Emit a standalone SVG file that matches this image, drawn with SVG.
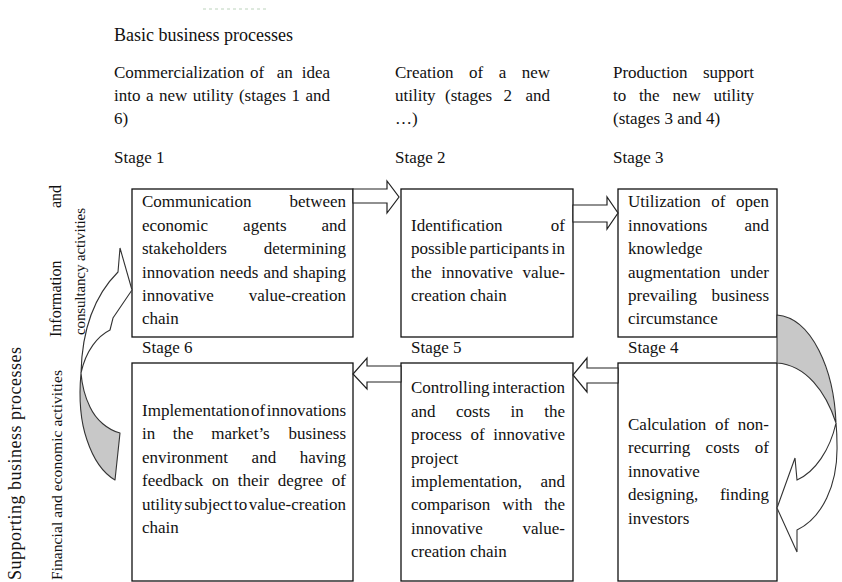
<svg xmlns="http://www.w3.org/2000/svg" width="842" height="582" viewBox="0 0 842 582">
<style>
  text { font-family: "Liberation Serif", "Times New Roman", serif; font-size: 17px; fill: #111; }
  .box { fill: #fff; stroke: #111; stroke-width: 1.3; }
  .blk { fill: #fff; stroke: #222; stroke-width: 1.2; stroke-linejoin: miter; }
  .back { fill: #c8c8c8; stroke: #333; stroke-width: 1.1; stroke-linejoin: round; }
  .front { fill: #fff; stroke: #333; stroke-width: 1.1; stroke-linejoin: miter; }
  .h18 { font-size: 18px; }
  .v18 { font-size: 18px; }
  .v16 { font-size: 16px; }
  .v155 { font-size: 15.5px; }
  .v15 { font-size: 15px; }
</style>
<rect width="842" height="582" fill="#fff"/>
<line x1="203" y1="9" x2="267" y2="9" stroke="#bcd3bc" stroke-width="1" stroke-dasharray="3 3"/>

<g id="header">
  <text class="h18" x="114" y="40.7">Basic business processes</text>
  <text y="77.5"><tspan x="114">Commercialization</tspan><tspan x="250">of</tspan><tspan x="276.7">an</tspan><tspan x="301.7">idea</tspan></text>
  <text y="101"><tspan x="114">into</tspan><tspan x="146">a</tspan><tspan x="159">new</tspan><tspan x="192.8">utility</tspan><tspan x="238.9">(stages</tspan><tspan x="291.6">1</tspan><tspan x="305.5">and</tspan></text>
  <text x="114" y="124.4">6)</text>
  <text y="77.5"><tspan x="395">Creation</tspan><tspan x="469">of</tspan><tspan x="498.7">a</tspan><tspan x="521.7">new</tspan></text>
  <text y="101"><tspan x="395">utility</tspan><tspan x="445">(stages</tspan><tspan x="503.6">2</tspan><tspan x="525.5">and</tspan></text>
  <text x="395" y="124.4">…)</text>
  <text y="77.5"><tspan x="613">Production</tspan><tspan x="703">support</tspan></text>
  <text y="101"><tspan x="613">to</tspan><tspan x="638.9">the</tspan><tspan x="672.4">new</tspan><tspan x="713.4">utility</tspan></text>
  <text x="613" y="124.4">(stages 3 and 4)</text>
</g>

<g id="supporting">
  <text class="v18" transform="translate(20.5,580) rotate(-90)" textLength="233" lengthAdjust="spacing">Supporting business processes</text>
  <text class="v155" transform="translate(62,580) rotate(-90)" textLength="210" lengthAdjust="spacing">Financial and economic activities</text>
  <text class="v16" transform="translate(61,337) rotate(-90)"><tspan x="0">Information</tspan><tspan x="129">and</tspan></text>
  <text class="v15" transform="translate(85,335) rotate(-90)" textLength="127" lengthAdjust="spacing">consultancy activities</text>
</g>

<g id="stage1">
  <text x="114" y="163.3">Stage 1</text>
  <rect class="box" x="132" y="189" width="221" height="148"/>
  <text y="207.3"><tspan x="142">Communication</tspan><tspan x="289.4">between</tspan></text>
  <text y="230.7"><tspan x="142">economic</tspan><tspan x="243.1">agents</tspan><tspan x="321.5">and</tspan></text>
  <text y="254.1"><tspan x="142">stakeholders</tspan><tspan x="263.8">determining</tspan></text>
  <text y="277.5"><tspan x="142">innovation</tspan><tspan x="219.7">needs</tspan><tspan x="263.4">and</tspan><tspan x="293.1">shaping</tspan></text>
  <text y="300.9"><tspan x="142">innovative</tspan><tspan x="248.8">value-creation</tspan></text>
  <text x="142" y="324.3">chain</text>
</g>

<g id="stage2">
  <text x="395" y="163.3">Stage 2</text>
  <rect class="box" x="401" y="189" width="172" height="148"/>
  <text y="231"><tspan x="411">Identification</tspan><tspan x="550.8">of</tspan></text>
  <text y="254.4"><tspan x="411">possible</tspan><tspan x="469.6">participants</tspan><tspan x="551.8">in</tspan></text>
  <text y="277.8"><tspan x="411">the</tspan><tspan x="441.2">innovative</tspan><tspan x="522.5">value-</tspan></text>
  <text x="411" y="301.2">creation chain</text>
</g>

<g id="stage3">
  <text x="613" y="163.3">Stage 3</text>
  <rect class="box" x="618" y="189" width="159" height="148"/>
  <text y="207.3"><tspan x="628">Utilization</tspan><tspan x="711.3">of</tspan><tspan x="736">open</tspan></text>
  <text y="230.7"><tspan x="628">innovations</tspan><tspan x="744.5">and</tspan></text>
  <text x="628" y="254.1">knowledge</text>
  <text y="277.5"><tspan x="628">augmentation</tspan><tspan x="730.3">under</tspan></text>
  <text y="300.9"><tspan x="628">prevailing</tspan><tspan x="711.4">business</tspan></text>
  <text x="628" y="324.3">circumstance</text>
</g>

<g id="stage4">
  <text x="628" y="353.3">Stage 4</text>
  <rect class="box" x="618" y="363" width="159" height="218"/>
  <text y="430"><tspan x="628">Calculation</tspan><tspan x="715">of</tspan><tspan x="737.8">non-</tspan></text>
  <text y="453.4"><tspan x="628">recurring</tspan><tspan x="705.6">costs</tspan><tspan x="754.8">of</tspan></text>
  <text x="628" y="476.8">innovative</text>
  <text y="500.2"><tspan x="628">designing,</tspan><tspan x="719.9">finding</tspan></text>
  <text x="628" y="523.6">investors</text>
</g>

<g id="stage5">
  <text x="411" y="353.3">Stage 5</text>
  <rect class="box" x="401" y="363" width="172" height="218"/>
  <text y="393.3"><tspan x="411">Controlling</tspan><tspan x="492.3">interaction</tspan></text>
  <text y="416.7"><tspan x="411">and</tspan><tspan x="456">costs</tspan><tspan x="510.5">in</tspan><tspan x="544.2">the</tspan></text>
  <text y="440.1"><tspan x="411">process</tspan><tspan x="470.5">of</tspan><tspan x="493.2">innovative</tspan></text>
  <text x="411" y="463.5">project</text>
  <text y="486.9"><tspan x="411">implementation,</tspan><tspan x="540.5">and</tspan></text>
  <text y="510.3"><tspan x="411">comparison</tspan><tspan x="502.2">with</tspan><tspan x="544.2">the</tspan></text>
  <text y="533.7"><tspan x="411">innovative</tspan><tspan x="522.5">value-</tspan></text>
  <text x="411" y="557.1">creation chain</text>
</g>

<g id="stage6">
  <text x="142" y="353.3">Stage 6</text>
  <rect class="box" x="132" y="363" width="221" height="218"/>
  <text y="416"><tspan x="142">Implementation</tspan><tspan x="251.1">of</tspan><tspan x="266.7">innovations</tspan></text>
  <text y="439.4"><tspan x="142">in</tspan><tspan x="172.8">the</tspan><tspan x="211.2">market’s</tspan><tspan x="288.4">business</tspan></text>
  <text y="462.8"><tspan x="142">environment</tspan><tspan x="251.6">and</tspan><tspan x="299.7">having</tspan></text>
  <text y="486.2"><tspan x="142">feedback</tspan><tspan x="212.1">on</tspan><tspan x="237.8">their</tspan><tspan x="277.7">degree</tspan><tspan x="331.8">of</tspan></text>
  <text y="509.6"><tspan x="142">utility</tspan><tspan x="184.2">subject</tspan><tspan x="234">to</tspan><tspan x="248.8">value-creation</tspan></text>
  <text x="142" y="533">chain</text>
</g>

<g id="connectors">
  <path class="blk" d="M353,189 H387 V181 L399,197 L387,213 V203 H353 Z"/>
  <path class="blk" d="M573,205 H607 V197 L618,213 L607,229 V222 H573 Z"/>
  <path class="blk" d="M618,368 H587 V358 L573,375 L587,392 V383 H618 Z"/>
  <path class="blk" d="M401,366 H367 V358 L353,374 L367,389 V382 H401 Z"/>
  <path class="back" d="M777,315 C812,318 834,370 836,423 C826,392 806,365 777,363 Z"/>
  <path class="front" d="M836,423 C830,450 815,472 797,480 L795,458 L777,508 L797,552 L797,530 C822,518 838,485 837,445 Q837,433 836,423 Z"/>
  <path class="back" d="M81,373 C79,395 80,420 87,440 C93,458 103,473 115,480 L120,433 C108,430 96,420 90,407 C85,397 82,385 81,373 Z"/>
  <path class="front" d="M81,373 C82,330 95,295 118,272 L120,248 L132,290 L113,318 L110,330 C98,336 86,350 81,373 Z"/>
</g>
</svg>
